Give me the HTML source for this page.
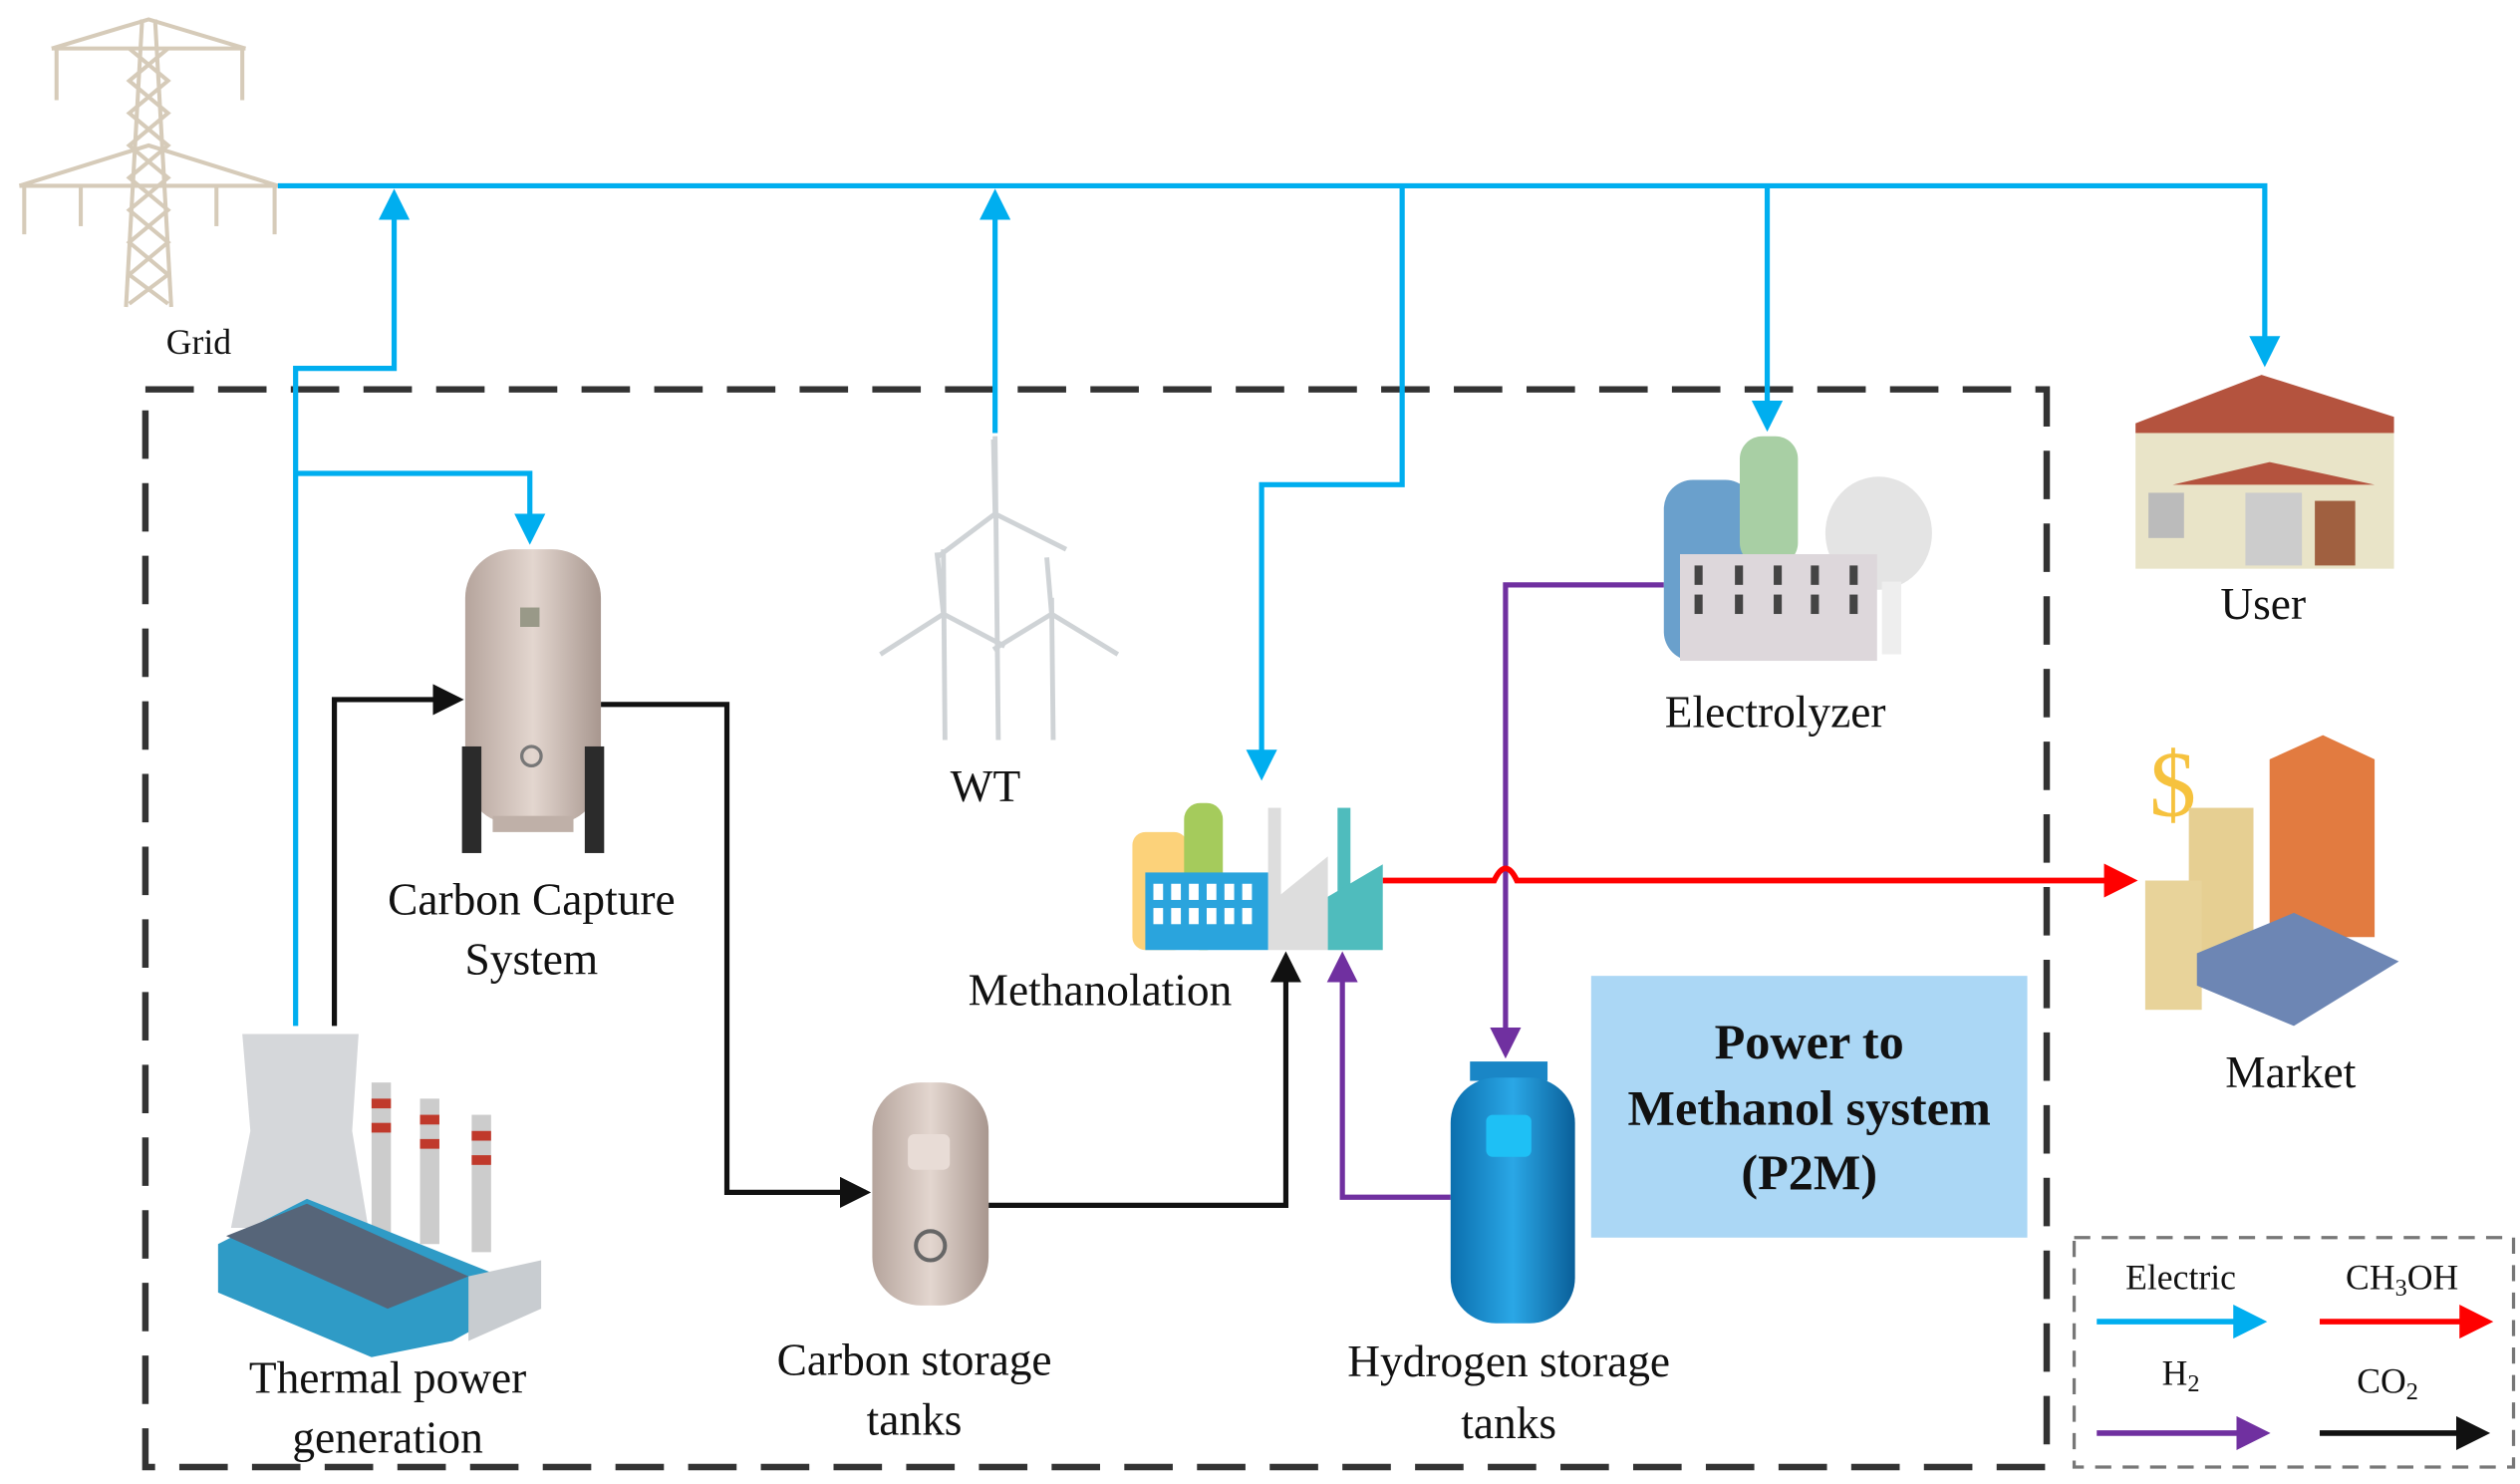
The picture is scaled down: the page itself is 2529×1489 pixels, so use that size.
<!DOCTYPE html>
<html><head><meta charset="utf-8"><style>
html,body{margin:0;padding:0;background:#fff;}
svg{display:block;}
text{font-family:"Liberation Serif",serif;fill:#111;}
</style></head><body>
<svg width="2529" height="1489" viewBox="0 0 1560 918.5" preserveAspectRatio="none" xmlns="http://www.w3.org/2000/svg">
<defs>
<marker id="ab" markerWidth="6" markerHeight="6" refX="5" refY="3" orient="auto" markerUnits="strokeWidth"><path d="M0,0 L6,3 L0,6 z" fill="#00aeef"/></marker>
<marker id="ak" markerWidth="6" markerHeight="6" refX="5" refY="3" orient="auto" markerUnits="strokeWidth"><path d="M0,0 L6,3 L0,6 z" fill="#111"/></marker>
<marker id="ap" markerWidth="6" markerHeight="6" refX="5" refY="3" orient="auto" markerUnits="strokeWidth"><path d="M0,0 L6,3 L0,6 z" fill="#7030a0"/></marker>
<marker id="ar" markerWidth="6" markerHeight="6" refX="5" refY="3" orient="auto" markerUnits="strokeWidth"><path d="M0,0 L6,3 L0,6 z" fill="#ff0000"/></marker>
<linearGradient id="tank" x1="0" x2="1"><stop offset="0" stop-color="#b5a49c"/><stop offset="0.5" stop-color="#e3d6cf"/><stop offset="1" stop-color="#a8978f"/></linearGradient>
<linearGradient id="htank" x1="0" x2="1"><stop offset="0" stop-color="#0b6fae"/><stop offset="0.5" stop-color="#2aa7e6"/><stop offset="1" stop-color="#0a5f99"/></linearGradient>
</defs>

<!-- dashed system box -->
<rect x="90" y="241" width="1177" height="667" fill="none" stroke="#333" stroke-width="4" stroke-dasharray="30,15"/>

<!-- Grid tower -->
<g stroke="#d6cbb9" stroke-width="2.5" fill="none">
<line x1="88" y1="12" x2="78" y2="190"/><line x1="96" y1="12" x2="106" y2="190"/>
<path d="M80,30 L104,50 L80,70 L104,90 L80,110 L104,130 L80,150 L104,170 L80,188"/>
<path d="M104,30 L80,50 L104,70 L80,90 L104,110 L80,130 L104,150 L80,170 L104,188"/>
<line x1="32" y1="30" x2="152" y2="30"/><line x1="12" y1="115" x2="172" y2="115"/>
<path d="M32,30 L92,12 L152,30 M12,115 L92,90 L172,115"/>
<line x1="35" y1="30" x2="35" y2="62"/><line x1="150" y1="30" x2="150" y2="62"/>
<line x1="15" y1="115" x2="15" y2="145"/><line x1="170" y1="115" x2="170" y2="145"/>
<line x1="50" y1="115" x2="50" y2="140"/><line x1="134" y1="115" x2="134" y2="140"/>
</g>
<text x="123" y="219" font-size="22" text-anchor="middle">Grid</text>

<!-- Electric lines -->
<g stroke="#00aeef" stroke-width="3.2" fill="none">
<path d="M172,115 H1402 V224" marker-end="url(#ab)"/>
<path d="M183,635 V228 H244 V120" marker-end="url(#ab)"/>
<path d="M183,293 H328 V334" marker-end="url(#ab)"/>
<path d="M616,268 V120" marker-end="url(#ab)"/>
<path d="M868,115 V300 H781 V480" marker-end="url(#ab)"/>
<path d="M1094,115 V264" marker-end="url(#ab)"/>
</g>

<!-- CO2 lines -->
<g stroke="#111" stroke-width="3.2" fill="none">
<path d="M207,635 V433 H284" marker-end="url(#ak)"/>
<path d="M372,436 H450 V738 H536" marker-end="url(#ak)"/>
<path d="M612,746 H796 V592" marker-end="url(#ak)"/>
</g>
<!-- H2 lines -->
<g stroke="#7030a0" stroke-width="3.2" fill="none">
<path d="M1030,362 H932 V652" marker-end="url(#ap)"/>
<path d="M898,741 H831 V592" marker-end="url(#ap)"/>
</g>
<!-- CH3OH -->
<path d="M856,545 H925 Q932,530 939,545 H1320" stroke="#ff0000" stroke-width="3.5" fill="none" marker-end="url(#ar)"/>

<!-- Carbon capture tank -->
<rect x="288" y="340" width="84" height="170" rx="30" fill="url(#tank)"/>
<rect x="286" y="462" width="12" height="66" fill="#2b2b2b"/><rect x="362" y="462" width="12" height="66" fill="#2b2b2b"/>
<rect x="305" y="505" width="50" height="10" fill="#bfb0a8"/>
<circle cx="329" cy="468" r="6" fill="none" stroke="#777" stroke-width="2"/>
<rect x="322" y="376" width="12" height="12" fill="#998" />
<text x="329" y="566" font-size="28" text-anchor="middle">Carbon Capture</text>
<text x="329" y="603" font-size="28" text-anchor="middle">System</text>

<!-- Wind turbines -->
<g stroke="#cfd3d6" stroke-width="3" fill="none">
<line x1="616" y1="270" x2="618" y2="458"/><line x1="584" y1="340" x2="585" y2="458"/><line x1="651" y1="370" x2="652" y2="458"/>
<path d="M616,318 L580,345 M616,318 L660,340 M616,318 L615,272"/>
<path d="M584,380 L545,405 M584,380 L622,400 M584,380 L580,342"/>
<path d="M651,380 L615,402 M651,380 L692,405 M651,380 L648,345"/>
</g>
<text x="610" y="496" font-size="28" text-anchor="middle">WT</text>

<!-- Methanolation -->
<rect x="701" y="515" width="34" height="73" rx="8" fill="#fcd27a"/>
<rect x="733" y="497" width="24" height="91" rx="10" fill="#a5cb5c"/>
<rect x="785" y="500" width="8" height="60" fill="#ddd"/>
<path d="M785,588 V560 L822,530 V588 z" fill="#ddd"/>
<rect x="828" y="500" width="8" height="60" fill="#4fbcbd"/>
<path d="M822,588 V555 L856,535 V588 z" fill="#4fbcbd"/>
<rect x="709" y="540" width="76" height="48" fill="#2aa4dd"/>
<g fill="#fff"><rect x="714" y="547" width="6" height="10"/><rect x="725" y="547" width="6" height="10"/><rect x="736" y="547" width="6" height="10"/><rect x="747" y="547" width="6" height="10"/><rect x="758" y="547" width="6" height="10"/><rect x="769" y="547" width="6" height="10"/>
<rect x="714" y="562" width="6" height="10"/><rect x="725" y="562" width="6" height="10"/><rect x="736" y="562" width="6" height="10"/><rect x="747" y="562" width="6" height="10"/><rect x="758" y="562" width="6" height="10"/><rect x="769" y="562" width="6" height="10"/></g>
<text x="681" y="622" font-size="28" text-anchor="middle">Methanolation</text>

<!-- Electrolyzer -->
<rect x="1030" y="297" width="56" height="112" rx="18" fill="#6aa0cc"/>
<rect x="1077" y="270" width="36" height="80" rx="14" fill="#a8cfa4"/>
<ellipse cx="1163" cy="330" rx="33" ry="35" fill="#e4e4e4"/>
<rect x="1165" y="360" width="12" height="45" fill="#eee"/>
<rect x="1040" y="343" width="122" height="66" fill="#ddd7db"/>
<g fill="#444"><rect x="1049" y="350" width="5" height="12"/><rect x="1074" y="350" width="5" height="12"/><rect x="1098" y="350" width="5" height="12"/><rect x="1121" y="350" width="5" height="12"/><rect x="1145" y="350" width="5" height="12"/>
<rect x="1049" y="368" width="5" height="12"/><rect x="1074" y="368" width="5" height="12"/><rect x="1098" y="368" width="5" height="12"/><rect x="1121" y="368" width="5" height="12"/><rect x="1145" y="368" width="5" height="12"/></g>
<text x="1099" y="450" font-size="28" text-anchor="middle">Electrolyzer</text>

<!-- User house -->
<path d="M1322,262 L1400,232 L1482,258 L1482,268 L1322,268 z" fill="#b4533e"/>
<rect x="1322" y="268" width="160" height="84" fill="#e9e4c8"/>
<path d="M1345,300 L1405,286 L1470,300 z" fill="#b4533e"/>
<rect x="1390" y="305" width="35" height="45" fill="#ccc"/>
<rect x="1433" y="310" width="25" height="40" fill="#a06040"/>
<rect x="1330" y="305" width="22" height="28" fill="#bbb"/>
<text x="1401" y="383" font-size="28" text-anchor="middle">User</text>

<!-- Market -->
<text x="1345" y="505" font-size="58" fill="#f6c23e" text-anchor="middle" style="fill:#f6c23e">$</text>
<path d="M1405,470 L1438,455 L1470,470 V580 L1405,580 z" fill="#e27b40"/>
<rect x="1355" y="500" width="40" height="100" fill="#e6cf92"/>
<rect x="1328" y="545" width="35" height="80" fill="#e8d39a"/>
<path d="M1360,590 L1420,565 L1485,595 L1420,635 L1360,610 z" fill="#6d86b4"/>
<text x="1418" y="673" font-size="28" text-anchor="middle">Market</text>

<!-- Thermal power -->
<path d="M150,640 L222,640 L218,700 L228,760 L143,760 L155,700 z" fill="#d5d7da"/>
<rect x="230" y="670" width="12" height="95" fill="#ccc"/><rect x="260" y="680" width="12" height="90" fill="#ccc"/><rect x="292" y="690" width="12" height="85" fill="#ccc"/>
<g fill="#c0392b"><rect x="230" y="680" width="12" height="6"/><rect x="230" y="695" width="12" height="6"/><rect x="260" y="690" width="12" height="6"/><rect x="260" y="705" width="12" height="6"/><rect x="292" y="700" width="12" height="6"/><rect x="292" y="715" width="12" height="6"/></g>
<path d="M135,770 L190,742 L335,800 L280,830 L230,840 L135,800 z" fill="#2f9bc6"/>
<path d="M140,765 L190,745 L290,790 L240,810 z" fill="#566579"/>
<path d="M290,790 L335,780 L335,810 L290,830 z" fill="#c8ccd0"/>
<text x="240" y="862" font-size="28" text-anchor="middle">Thermal power</text>
<text x="240" y="899" font-size="28" text-anchor="middle">generation</text>

<!-- Carbon storage -->
<rect x="540" y="670" width="72" height="138" rx="30" fill="url(#tank)"/>
<rect x="562" y="702" width="26" height="22" rx="4" fill="#e8dcd6"/>
<circle cx="576" cy="771" r="9" fill="none" stroke="#666" stroke-width="2.5"/>
<text x="566" y="851" font-size="28" text-anchor="middle">Carbon storage</text>
<text x="566" y="888" font-size="28" text-anchor="middle">tanks</text>

<!-- Hydrogen tank -->
<rect x="910" y="657" width="48" height="12" fill="#1a86c6"/>
<rect x="898" y="667" width="77" height="152" rx="28" fill="url(#htank)"/>
<rect x="920" y="690" width="28" height="26" rx="4" fill="#1ec0f5"/>
<text x="934" y="852" font-size="28" text-anchor="middle">Hydrogen storage</text>
<text x="934" y="890" font-size="28" text-anchor="middle">tanks</text>

<!-- P2M box -->
<rect x="985" y="604" width="270" height="162" fill="#abd7f5"/>
<g font-weight="bold" font-size="31" text-anchor="middle">
<text x="1120" y="655">Power to</text>
<text x="1120" y="696">Methanol system</text>
<text x="1120" y="736">(P2M)</text>
</g>

<!-- Legend -->
<rect x="1284" y="766" width="272" height="142" fill="none" stroke="#777" stroke-width="2" stroke-dasharray="10,7"/>
<text x="1350" y="798" font-size="22" text-anchor="middle">Electric</text>
<text x="1487" y="798" font-size="22" text-anchor="middle">CH<tspan font-size="15" dy="4">3</tspan><tspan dy="-4">OH</tspan></text>
<text x="1350" y="857" font-size="22" text-anchor="middle">H<tspan font-size="15" dy="4">2</tspan></text>
<text x="1478" y="862" font-size="22" text-anchor="middle">CO<tspan font-size="15" dy="4">2</tspan></text>
<path d="M1298,818 H1400" stroke="#00aeef" stroke-width="3.5" marker-end="url(#ab)"/>
<path d="M1436,818 H1540" stroke="#ff0000" stroke-width="3.5" marker-end="url(#ar)"/>
<path d="M1298,887 H1402" stroke="#7030a0" stroke-width="3.5" marker-end="url(#ap)"/>
<path d="M1436,887 H1538" stroke="#111" stroke-width="3.5" marker-end="url(#ak)"/>
</svg>
</body></html>
